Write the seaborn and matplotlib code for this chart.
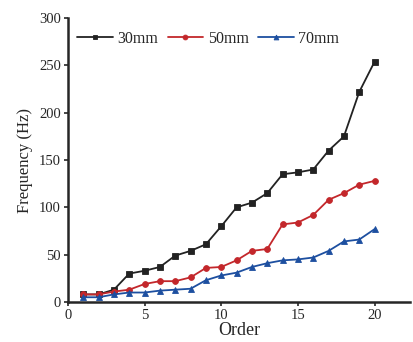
import numpy as np
import pandas as pd
import matplotlib
matplotlib.use("Agg")
import matplotlib.pyplot as plt
import seaborn as sns

order = list(range(1, 21))
f30 = [8, 8, 13, 30, 33, 37, 49, 54, 61, 80, 100, 105, 115, 135, 137, 140, 160, 175, 222, 254]
f50 = [8, 8, 11, 13, 19, 22, 22, 26, 36, 37, 44, 54, 56, 82, 84, 92, 108, 115, 124, 128]
f70 = [5, 5, 8, 10, 10, 12, 13, 14, 23, 28, 31, 37, 41, 44, 45, 47, 54, 64, 66, 77]
series = ["30mm", "50mm", "70mm"]
colors = ["#222222", "#c3272b", "#1d4fa0"]
markers = ["s", "o", "^"]

df = pd.DataFrame({
    "Order": order * 3,
    "Frequency": f30 + f50 + f70,
    "Series": [s for s in series for _ in order],
})

sns.set_style("ticks")
plt.rcParams["font.family"] = ["Liberation Serif", "DejaVu Serif"]

fig = plt.figure(figsize=(4.14, 3.42), dpi=100)
ax = fig.add_axes([0.164, 0.117, 0.826, 0.83])
sns.lineplot(data=df, x="Order", y="Frequency", hue="Series", style="Series",
             palette=colors, markers=markers, dashes=False, markersize=4.2,
             markeredgewidth=0.6, linewidth=1.3, ax=ax)
for ln in ax.lines:
    ln.set_markeredgecolor(ln.get_color())

ax.set_xlim(0, 22.3)
ax.set_ylim(0, 300)
ax.set_xticks([0, 5, 10, 15, 20])
ax.set_yticks([0, 50, 100, 150, 200, 250, 300])
ax.tick_params(labelsize=10.5, direction="out", width=1.2, length=3, pad=2)
for s in ["left", "bottom"]:
    ax.spines[s].set_linewidth(1.8)
sns.despine(ax=ax)
ax.set_xlabel("Order", fontsize=13, labelpad=0)
ax.set_ylabel("Frequency (Hz)", fontsize=12, labelpad=4)
leg = ax.legend(loc="upper left", ncol=3, frameon=False, fontsize=11.5,
                handlelength=2.2, columnspacing=0.6, handletextpad=0.3,
                bbox_to_anchor=(0.0, 0.99), borderaxespad=0.2)
for h in leg.legend_handles:
    h.set_markeredgecolor(h.get_color())
    h.set_markersize(3.5)
fig.savefig("out.png", dpi=100)
